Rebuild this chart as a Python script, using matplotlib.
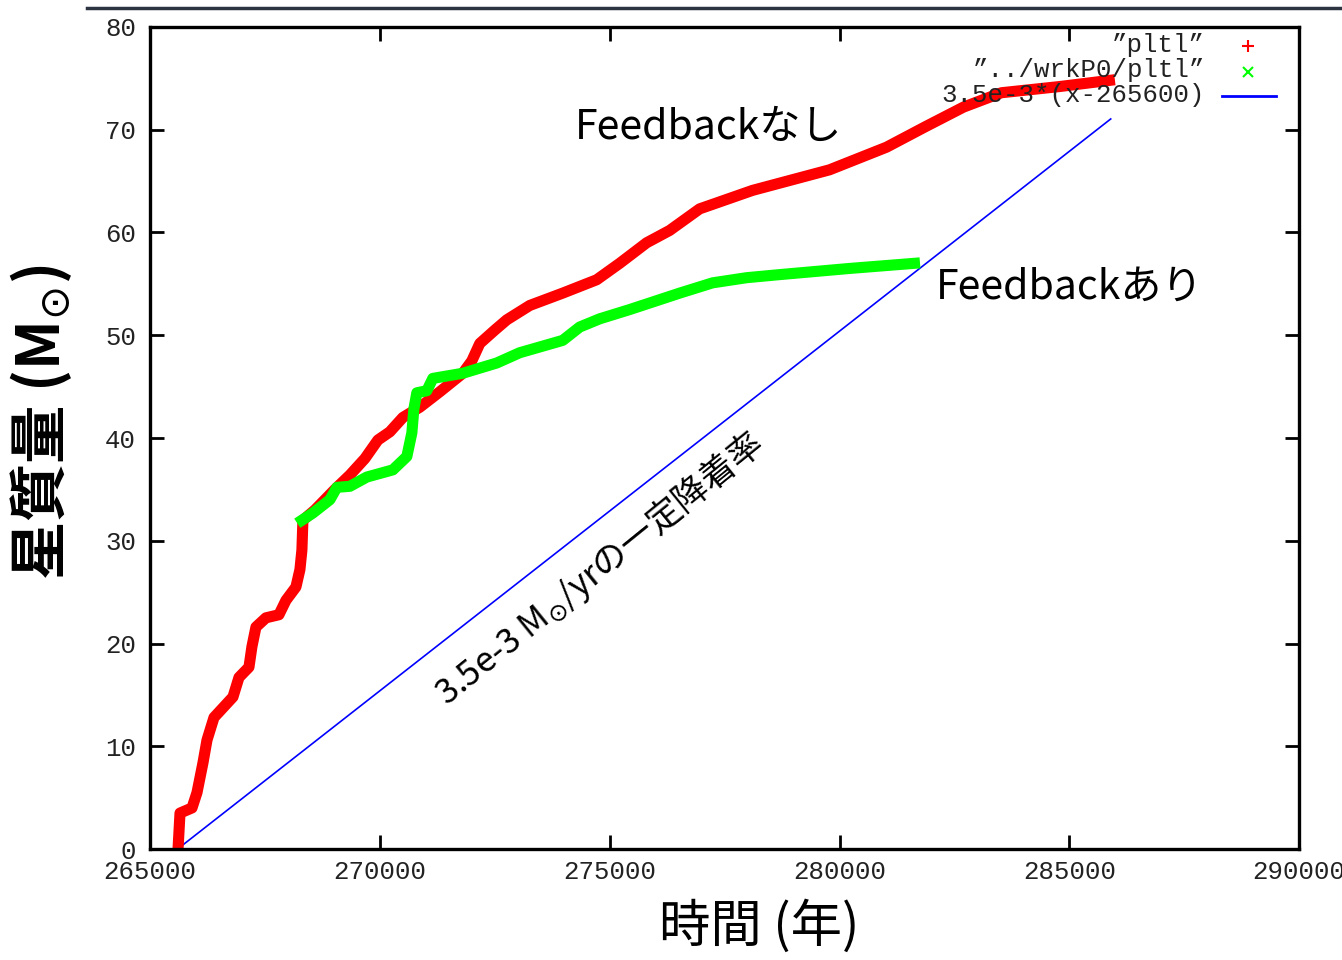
import matplotlib
matplotlib.use('Agg')
import matplotlib.pyplot as plt
from matplotlib.lines import Line2D

plt.rcParams['font.family'] = ['Noto Sans CJK JP', 'DejaVu Sans']

# Feedbackなし (red)
red_x = [265609, 265652, 265913, 266022, 266152, 266239, 266391, 266804, 266935, 267152,
         267217, 267304, 267522, 267804, 267957, 268174, 268261, 268304, 268326, 268587,
         269022, 269348, 269674, 269957, 270217, 270500, 270870, 271304, 271804, 272000,
         272174, 272500, 272761, 273261, 273978, 274717, 275217, 275804, 276304, 276957,
         278109, 279783, 281022, 281870, 282696, 283522, 284783, 285870]
red_y = [0, 3.5, 4.0, 5.5, 8.4, 10.6, 12.8, 14.8, 16.7, 17.7,
         19.7, 21.6, 22.5, 22.8, 24.2, 25.5, 27.2, 29.1, 32.0, 33.0,
         35.0, 36.4, 38.0, 39.8, 40.6, 42.0, 43.0, 44.5, 46.3, 47.5,
         49.2, 50.5, 51.5, 52.9, 54.1, 55.4, 57.0, 59.0, 60.2, 62.3,
         64.1, 66.1, 68.3, 70.3, 72.2, 73.6, 74.2, 74.8]

# Feedbackあり (green)
green_x = [268304, 268543, 268913, 269065, 269348, 269717, 270283, 270587, 270696, 270739,
           270804, 271022, 271152, 271804, 272543, 273043, 273978, 274348, 274783, 275435,
           276522, 277239, 277978, 278696, 280217, 281630]
green_y = [32.0, 32.7, 34.0, 35.2, 35.3, 36.2, 36.9, 38.2, 40.5, 42.8,
           44.4, 44.6, 45.8, 46.3, 47.3, 48.3, 49.5, 50.8, 51.6, 52.5,
           54.1, 55.1, 55.6, 55.9, 56.5, 57.0]

# 3.5e-3*(x-265600)
blue_x = [265600, 285900]
blue_y = [0.0, 71.05]

x_ticks = [265000, 270000, 275000, 280000, 285000, 290000]
y_ticks = [0, 10, 20, 30, 40, 50, 60, 70, 80]
legend_labels = ['\u201dpltl\u201d', '\u201d../wrkP0/pltl\u201d', '3.5e-3*(x-265600)']

fig = plt.figure(figsize=(13.42, 9.6), dpi=100)
ax = fig.add_axes([0.1118, 0.1156, 0.8563, 0.8563])

ax.plot(blue_x, blue_y, color='#0000ff', lw=1.2)
ax.plot(red_x, red_y, color='#ff0000', lw=8)
ax.plot(green_x, green_y, color='#00ff00', lw=8)

ax.set_xlim(265000, 290000)
ax.set_ylim(0, 80)
ax.set_xticks(x_ticks)
ax.set_yticks(y_ticks)
tick_font = dict(family='Liberation Mono', size=18.5, color='#222222')
ax.set_xticklabels([str(v) for v in x_ticks], fontdict=tick_font)
ax.set_yticklabels([str(v) for v in y_ticks], fontdict=tick_font)
ax.tick_params(direction='in', length=10, width=2, top=True, right=True)
ax.tick_params(axis='x', pad=8)
ax.tick_params(axis='y', pad=10)
for s in ax.spines.values():
    s.set_linewidth(2.4)

ax.set_xlabel('時間 (年)', fontsize=37)
ax.xaxis.set_label_coords(0.53, -0.062)
ax.set_ylabel('星質量 (M$_{\\odot}$)', fontsize=42, fontweight='bold')
ax.yaxis.set_label_coords(-0.066, 0.519)

# annotations
ax.text(274239, 70.2, 'Feedbackなし', fontsize=29.5, ha='left', va='center')
ax.text(282087, 54.7, 'Feedbackあり', fontsize=29.5, ha='left', va='center')
ax.text(274780, 27.3, '3.5e-3 M$_{\\odot}$/yrの一定降着率', fontsize=25,
        rotation=39, rotation_mode='anchor', ha='center', va='center')

# gnuplot style key
key_font = dict(family='Liberation Mono', size=18.5, color='#222222')
key_y = [0.978, 0.948, 0.917]
for lab, ky in zip(legend_labels, key_y):
    ax.text(0.918, ky, lab, transform=ax.transAxes, ha='right', va='center',
            clip_on=False, **key_font)
ax.plot([0.9556], [0.9769], marker='+', color='#ff0000', ms=9, mew=1.5,
        transform=ax.transAxes, clip_on=False)
ax.plot([0.9556], [0.9453], marker='x', color='#00ff00', ms=7, mew=1.5,
        transform=ax.transAxes, clip_on=False)
ax.plot([0.933, 0.980], [0.916, 0.916], color='#0000ff', lw=2,
        transform=ax.transAxes, clip_on=False)

# slide decoration line at the top
fig.add_artist(Line2D([87 / 1342, 1.0], [1 - 8 / 960, 1 - 8 / 960],
                      transform=fig.transFigure, color='#2b3440', lw=2.5))

fig.savefig('out.png', dpi=100)
